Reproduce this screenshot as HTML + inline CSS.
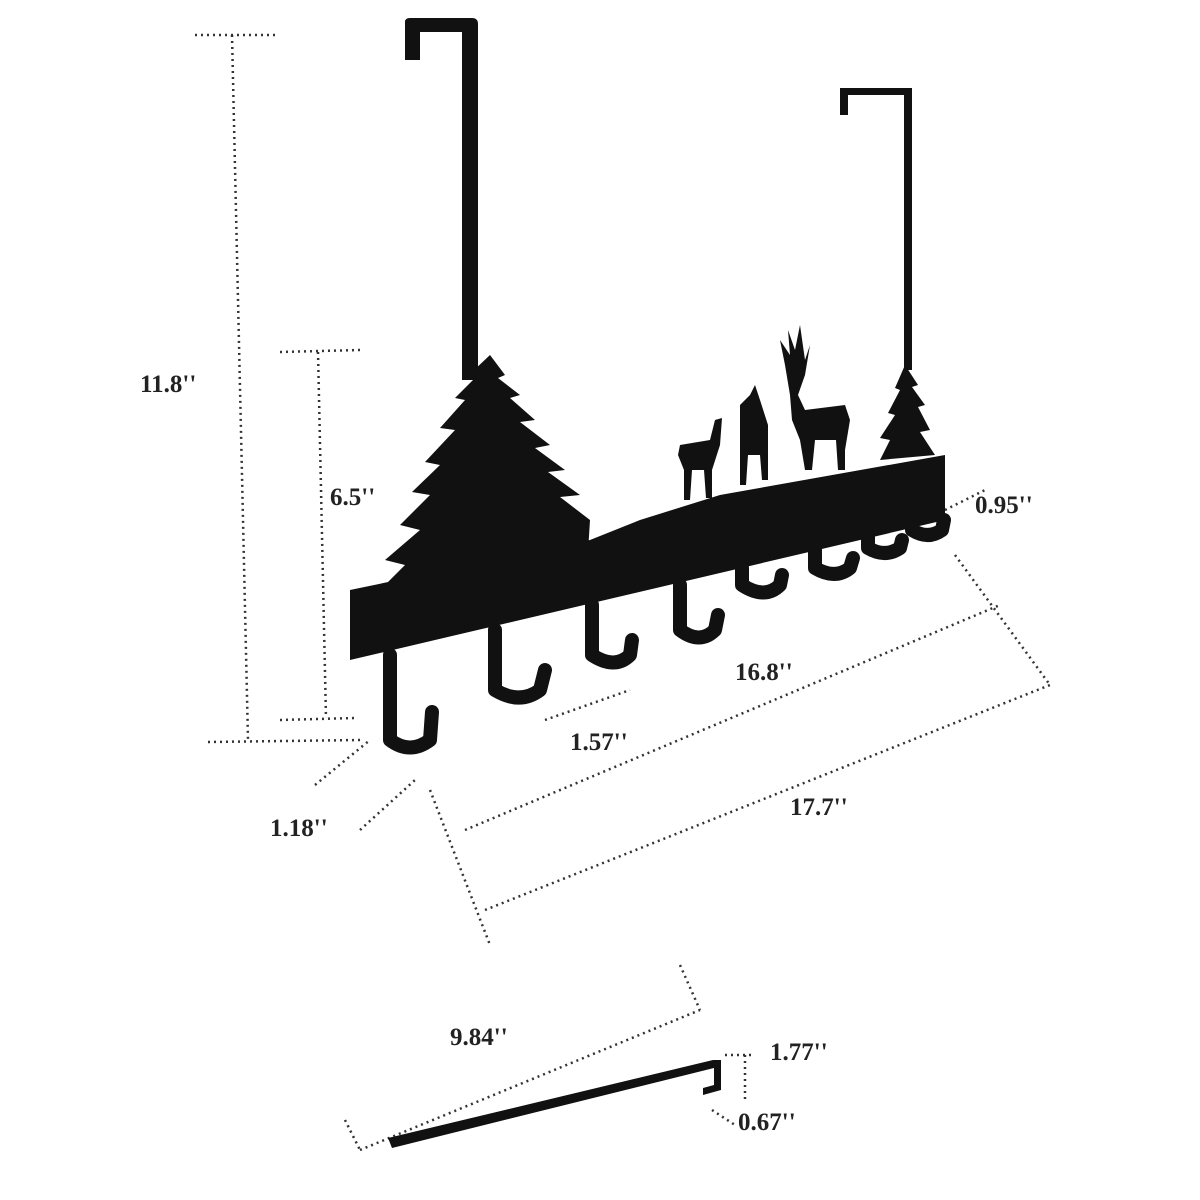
<!DOCTYPE html>
<html><head><meta charset="utf-8"><style>
html,body{margin:0;padding:0;background:#fff;width:1200px;height:1200px;overflow:hidden}
text{font-family:"Liberation Serif",serif;font-weight:bold;font-size:25px;fill:#222}
</style></head><body>
<svg width="1200" height="1200" viewBox="0 0 1200 1200" xmlns="http://www.w3.org/2000/svg">
<g fill="none" stroke="#333" stroke-width="2.5" stroke-dasharray="2,4">
<line x1="195" y1="35" x2="275" y2="35"/>
<line x1="232" y1="35" x2="248" y2="740"/>
<line x1="208" y1="742" x2="360" y2="740"/>
<line x1="280" y1="352" x2="360" y2="350"/>
<line x1="318" y1="352" x2="326" y2="718"/>
<line x1="280" y1="720" x2="355" y2="718"/>
<line x1="945" y1="510" x2="985" y2="490"/>
<line x1="955" y1="555" x2="1050" y2="685"/>
<line x1="465" y1="830" x2="1000" y2="605"/>
<line x1="430" y1="790" x2="490" y2="945"/>
<line x1="485" y1="910" x2="1050" y2="685"/>
<line x1="545" y1="720" x2="630" y2="690"/>
<line x1="315" y1="785" x2="370" y2="740"/>
<line x1="360" y1="830" x2="415" y2="780"/>
<line x1="345" y1="1120" x2="360" y2="1150"/>
<line x1="360" y1="1150" x2="700" y2="1010"/>
<line x1="680" y1="965" x2="700" y2="1010"/>
<line x1="725" y1="1055" x2="755" y2="1055"/>
<line x1="745" y1="1055" x2="745" y2="1100"/>
<line x1="712" y1="1110" x2="735" y2="1125"/>
</g>
<g fill="#111" stroke="#111">
<path d="M405 60 L405 22 Q405 18 410 18 L472 18 Q478 18 478 24 L478 380 L462 380 L462 32 L420 32 L420 60 Z" stroke="none"/>
<path d="M840 115 L840 88 L912 88 L912 370 L904 370 L904 95 L848 95 L848 115 Z" stroke="none"/>
<path d="M490 355 L505 375 L498 378 L520 395 L510 398 L535 420 L520 422 L550 445 L535 448 L565 470 L548 472 L580 495 L560 497 L590 520 L585 600 L395 610 L380 590 L405 565 L385 560 L420 530 L400 525 L430 495 L412 492 L440 465 L425 462 L455 430 L440 428 L465 400 L455 398 L478 375 L472 372 Z" stroke="none"/>
<path d="M350 590 L590 540 L640 520 L720 495 L945 455 L945 520 L350 660 Z" stroke="none"/>
<path d="M905 365 L918 385 L912 387 L925 405 L918 407 L930 430 L920 432 L935 455 L880 460 L890 440 L880 438 L895 415 L888 413 L900 390 L895 388 Z" stroke="none"/>
<path d="M680 445 L710 440 L715 420 L722 418 L720 445 L712 470 L712 498 L706 498 L704 470 L692 470 L690 500 L684 500 L684 470 L678 455 Z" stroke="none"/>
<path d="M740 405 L750 395 L755 385 L760 400 L768 425 L768 480 L762 480 L760 455 L748 455 L746 485 L740 485 L740 440 Z" stroke="none"/>
<path d="M790 395 L785 365 L780 340 L790 355 L788 330 L795 350 L800 325 L805 360 L810 345 L805 375 L798 395 L805 410 L845 405 L850 420 L845 450 L845 470 L838 470 L836 440 L815 440 L812 470 L805 470 L800 440 L792 420 Z" stroke="none"/>
</g>
<g fill="none" stroke="#111" stroke-width="14" stroke-linecap="round" stroke-linejoin="round">
<path d="M390 655 L390 740 Q410 755 430 740 L432 712"/>
<path d="M495 630 L495 690 Q520 705 540 690 L545 670"/>
<path d="M592 605 L592 655 Q615 670 630 655 L632 640"/>
<path d="M680 585 L680 630 Q700 645 715 630 L718 615"/>
<path d="M742 568 L742 585 Q765 600 780 585 L782 575"/>
<path d="M815 550 L815 568 Q835 580 850 568 L853 558"/>
<path d="M868 535 L868 548 Q885 558 900 548 L902 540"/>
<path d="M912 522 L912 530 Q928 540 942 530 L944 520"/>
</g>
<path d="M388 1138 L713 1060 L721 1060 L721 1090 L703 1095 L703 1088 L714 1085 L714 1068 L392 1148 Z" fill="#111"/>
<text x="140" y="392">11.8''</text>
<text x="330" y="505">6.5''</text>
<text x="975" y="513">0.95''</text>
<text x="735" y="680">16.8''</text>
<text x="570" y="750">1.57''</text>
<text x="270" y="836">1.18''</text>
<text x="790" y="815">17.7''</text>
<text x="450" y="1045">9.84''</text>
<text x="770" y="1060">1.77''</text>
<text x="738" y="1130">0.67''</text>
</svg>
</body></html>
